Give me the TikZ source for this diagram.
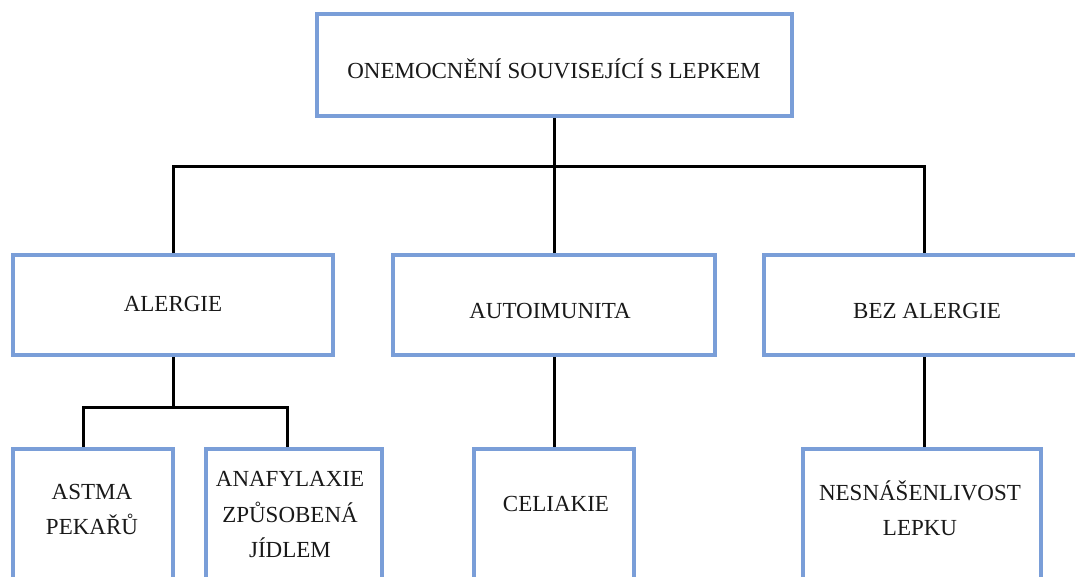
\documentclass[tikz,border=0pt]{standalone}
\usepackage{fontspec}
\setmainfont{Liberation Serif}
\definecolor{boxblue}{RGB}{122,158,216}
\tikzset{
  box/.style={draw=boxblue, line width=4pt, fill=white, rectangle, inner sep=0pt},
  lbl/.style={font=\fontsize{23}{35.5}\selectfont, inner sep=0pt, anchor=base, text=black!90},
  conn/.style={draw=black, line width=3pt},
}
\begin{document}
\begin{tikzpicture}[x=1pt,y=-1pt]
\useasboundingbox (0,0) rectangle (1075,577);
\clip (0,0) rectangle (1075,577);
\fill[white] (0,0) rectangle (1075,577);
% boxes
\node[box, minimum width=475, minimum height=102] (root) at (554,65) {};
\node[box, minimum width=320, minimum height=100] (alergie) at (173,305) {};
\node[box, minimum width=322, minimum height=100] (auto) at (554,305) {};
\node[box, minimum width=320, minimum height=100] (bez) at (924,305) {};
\node[box, minimum width=160, minimum height=160] (astma) at (93,529) {};
\node[box, minimum width=176, minimum height=160] (anaf) at (294,529) {};
\node[box, minimum width=160, minimum height=160] (celiakie) at (554,529) {};
\node[box, minimum width=238, minimum height=160] (nesn) at (922,529) {};
% labels
\node[lbl] (troot) at (554,79) {ONEMOCNĚNÍ SOUVISEJÍCÍ S LEPKEM};
\node[lbl] (talergie) at (173,311.7) {ALERGIE};
\node[lbl] (tauto) at (550,318) {AUTOIMUNITA};
\node[lbl] (tbez) at (927,318) {BEZ ALERGIE};
\node[lbl] (tastma) at (92,499) {\begin{tabular}[t]{@{}c@{}}ASTMA\\PEKAŘŮ\end{tabular}};
\node[lbl] (tanaf) at (290,486.7) {\begin{tabular}[t]{@{}c@{}}ANAFYLAXIE\\ZPŮSOBENÁ\\JÍDLEM\end{tabular}};
\node[lbl] (tceliakie) at (556,511.7) {CELIAKIE};
\node[lbl] (tnesn) at (920,500) {\begin{tabular}[t]{@{}c@{}}NESNÁŠENLIVOST\\LEPKU\end{tabular}};
% connectors
\coordinate (bus) at (554,167);
\coordinate (bus2) at (173,407);
\draw[conn] (root.south) -- (root.south |- bus);
\draw[conn] (alergie.north) |- (bez.north |- bus) -- (bez.north);
\draw[conn] (auto.north) -- (auto.north |- bus);
\draw[conn] (alergie.south) -- (alergie.south |- bus2);
\draw[conn] ([xshift=-10pt]astma.north) |- (bus2) -| ([xshift=-7pt]anaf.north);
\draw[conn] (auto.south) -- (celiakie.north);
\draw[conn] (bez.south) -- (bez.south |- nesn.north);
\end{tikzpicture}
\end{document}
